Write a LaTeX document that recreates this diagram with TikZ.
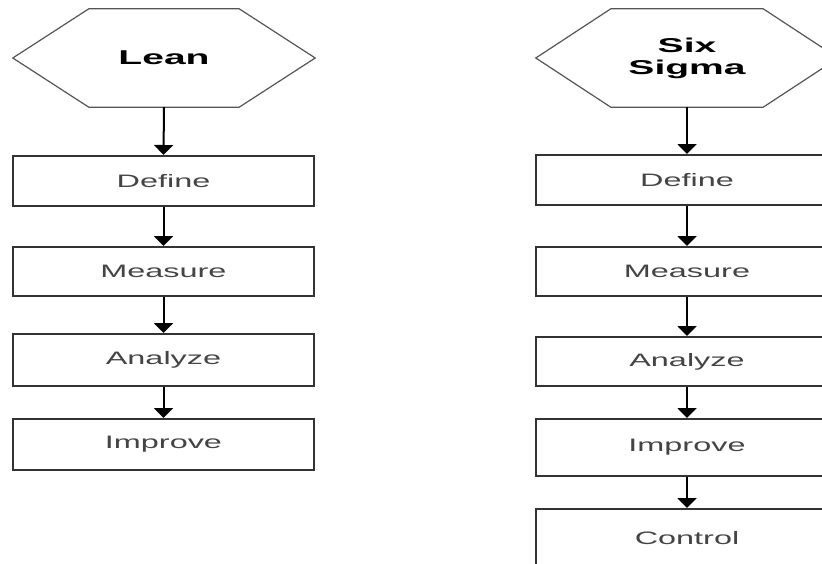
\documentclass[tikz,border=0pt]{standalone}
\usepackage{fontspec}
\setmainfont{Liberation Sans}
\usepackage{graphicx}
\usetikzlibrary{arrows.meta,calc}
\definecolor{boxline}{HTML}{333333}
\definecolor{hexline}{HTML}{555555}
\definecolor{labelgray}{HTML}{444444}
\newcommand{\wide}[1]{\scalebox{1.8}[1]{#1}}
\newcommand{\widebold}[1]{\scalebox{1.95}[1]{#1}}
\begin{document}
\begin{tikzpicture}[x=1pt,y=-1pt,
  hexnode/.style={minimum width=302pt, minimum height=98pt, inner sep=0pt,
    align=center, font=\fontsize{20}{22}\selectfont\bfseries},
  hexoutline/.style={draw=hexline, line width=1.2pt, line join=miter},
  stepbox/.style={draw=boxline, line width=2pt, minimum width=301pt,
    minimum height=50pt, inner sep=0pt, text=labelgray,
    font=\fontsize{18}{20}\selectfont},
  flow/.style={-{Triangle[width=19pt,length=10pt]}, line width=2pt, draw=black}]

\fill[white] (0,0) rectangle (822,563);
\useasboundingbox (0,0) rectangle (822,563);
\clip (0,0) rectangle (822,563);

% Lean column
\node[hexnode] (lean) at (164,58) {\widebold{Lean}};
\draw[hexoutline] (lean.west) -- ($(lean.north west)+(76,0)$)
  -- ($(lean.north east)+(-76,0)$) -- (lean.east)
  -- ($(lean.south east)+(-76,0)$) -- ($(lean.south west)+(76,0)$) -- cycle;

\node[stepbox] (ldef) at (163.5,181) {\wide{Define}};
\node[stepbox, minimum height=49pt] (lmea) at (163.5,271.5) {\wide{Measure}};
\node[stepbox, minimum height=52pt] (lana) at (163.5,360) {\wide{Analyze}};
\node[stepbox, minimum height=51pt] (limp) at (163.5,444.5) {\wide{Improve}};

\draw[flow] (lean.south) -- (ldef.north);
\draw[flow] (ldef.south) -- (lmea.north);
\draw[flow] (lmea.south) -- (lana.north);
\draw[flow] (lana.south) -- (limp.north);

% Six Sigma column
\node[hexnode] (six) at (687,58) {\widebold{Six}\\\widebold{Sigma}};
\draw[hexoutline] (six.west) -- ($(six.north west)+(75,0)$)
  -- ($(six.north east)+(-75,0)$) -- (six.east)
  -- ($(six.south east)+(-75,0)$) -- ($(six.south west)+(75,0)$) -- cycle;

\node[stepbox, minimum width=302pt] (rdef) at (687,180) {\wide{Define}};
\node[stepbox, minimum width=302pt, minimum height=49pt] (rmea) at (687,271.5) {\wide{Measure}};
\node[stepbox, minimum width=302pt, minimum height=49pt] (rana) at (687,361.5) {\wide{Analyze}};
\node[stepbox, minimum width=302pt, minimum height=57pt] (rimp) at (687,447.5) {\wide{Improve}};
\node[stepbox, minimum width=302pt, minimum height=58pt] (rctl) at (687,538) {\wide{Control}};

\draw[flow] (six.south) -- (rdef.north);
\draw[flow] (rdef.south) -- (rmea.north);
\draw[flow] (rmea.south) -- (rana.north);
\draw[flow] (rana.south) -- (rimp.north);
\draw[flow] (rimp.south) -- (rctl.north);
\end{tikzpicture}
\end{document}
